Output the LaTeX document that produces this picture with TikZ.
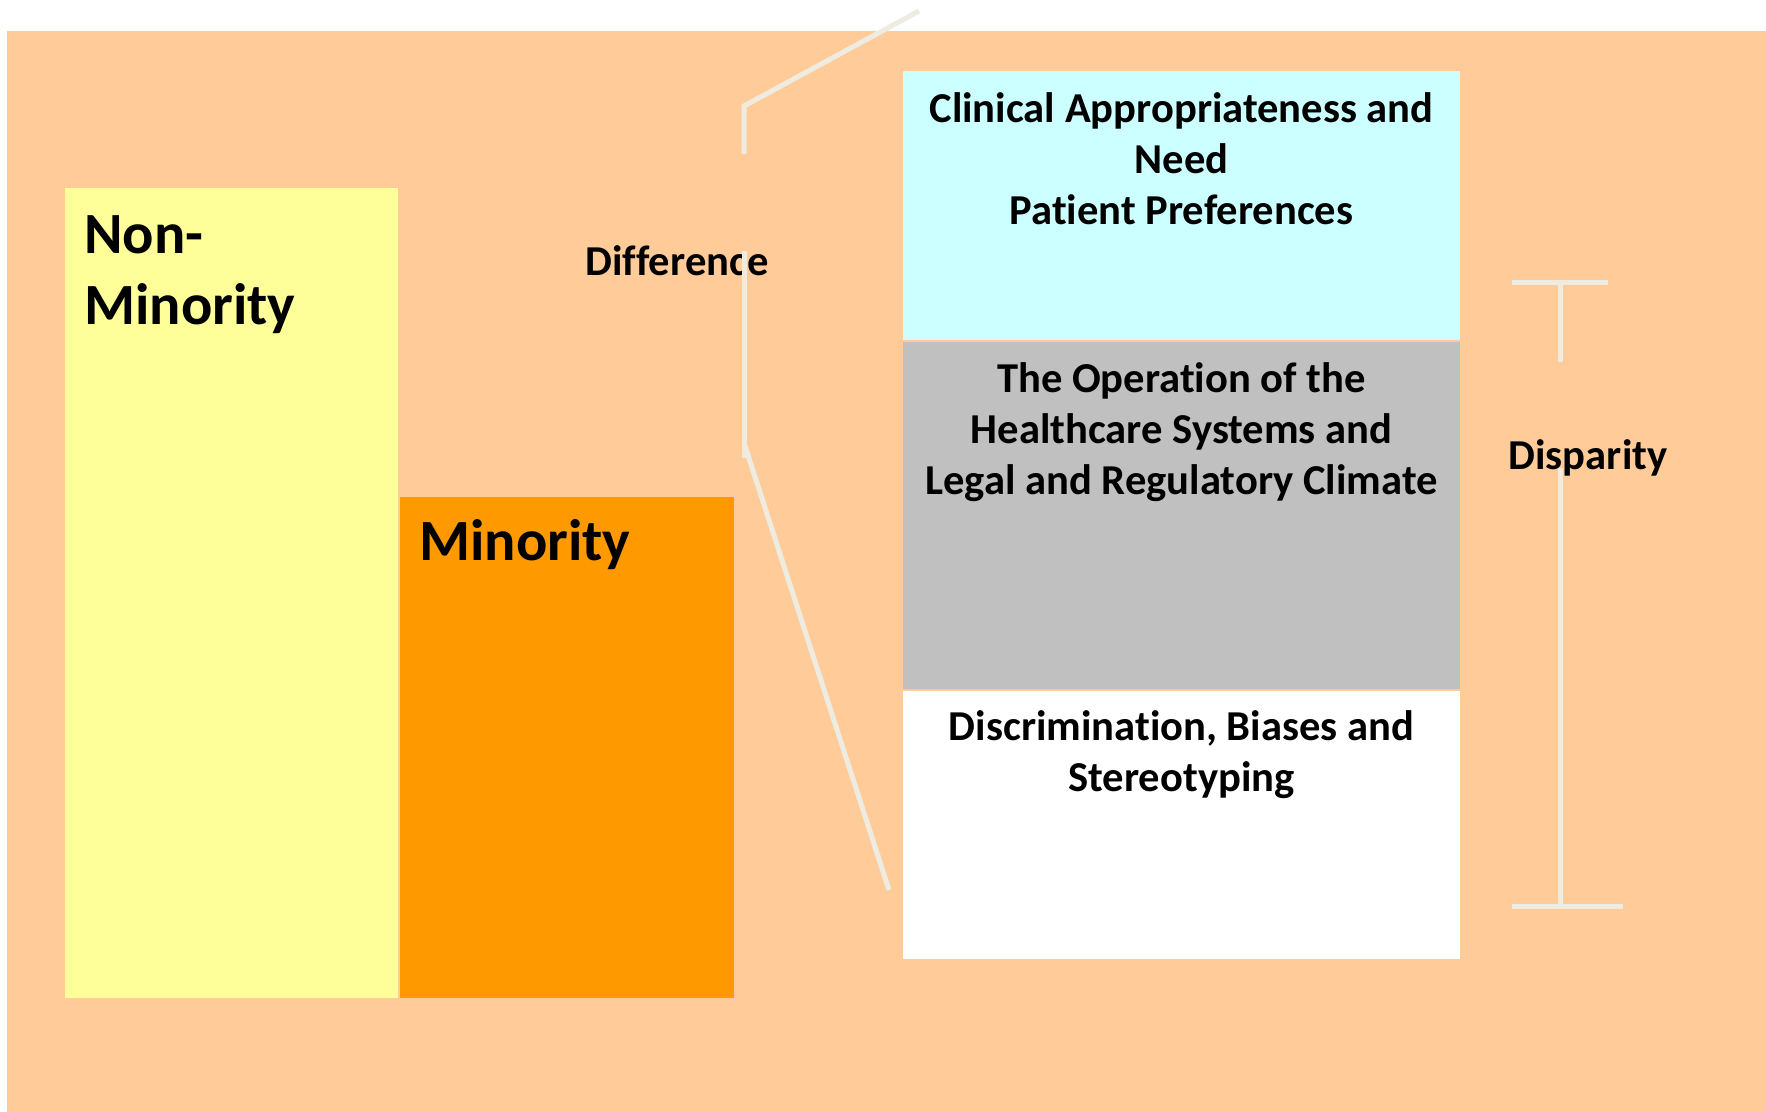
\documentclass[tikz,border=0pt]{standalone}
\usepackage{fontspec}
\setmainfont{Carlito}[Ligatures=NoCommon]
\usetikzlibrary{fit,positioning}
\definecolor{peach}{HTML}{FFCC99}
\definecolor{paleyellow}{HTML}{FFFF99}
\definecolor{deeporange}{HTML}{FF9900}
\definecolor{palecyan}{HTML}{CCFFFF}
\definecolor{midgray}{HTML}{C0C0C0}
\definecolor{cream}{HTML}{EEECE1}
\tikzset{
  bar/.style={inner sep=0pt, outer sep=0pt},
  bracket/.style={draw=cream, line width=2.5pt},
  bigtext/.style={font=\fontsize{29.2}{35.5}\selectfont\bfseries, align=left, inner sep=0pt},
  boxtext/.style={font=\fontsize{21.3}{25.5}\selectfont\bfseries, align=center, inner sep=0pt, anchor=north},
  sidetext/.style={font=\fontsize{21.3}{25.5}\selectfont\bfseries, inner sep=0pt, anchor=base},
}
\begin{document}
\begin{tikzpicture}[x=0.5pt,y=-0.5pt]
\useasboundingbox (0,0) rectangle (1766,1112);
\fill[peach] (7,31) rectangle (1766,1112);
% the two bars
\node[bar, fill=paleyellow, fit={(65,188) (398,998)}] (nonmin) {};
\node[bar, fill=deeporange, fit={(400,497) (734,998)}] (minor) {};
\node[bigtext, anchor=north west] (nonmintext) at (84,215) {Non-\\Minority};
\node[bigtext, anchor=base west] (minortext) at (419,560) {Minority};
% the stack of causes
\node[bar, fill=palecyan, fit={(903,71) (1460,340)}] (clinical) {};
\node[bar, fill=midgray, fit={(903,342) (1460,689)}] (operation) {};
\node[bar, fill=white, fit={(903,691) (1460,959)}] (discrim) {};
\node[boxtext] (clinicaltext) at (1181.5,92) {Clinical Appropriateness and\\Need\\Patient Preferences};
\node[boxtext] (operationtext) at (1181.5,362) {The Operation of the\\Healthcare Systems and\\Legal and Regulatory Climate};
\node[boxtext] (discrimtext) at (1181.5,710) {Discrimination, Biases and\\Stereotyping};
\node[sidetext] (difference) at (677,276) {Difference};
\node[sidetext] (disparity) at (1588,469) {Disparity};
% brackets
\coordinate (difftop) at (919,11);
\coordinate (diffbend) at (744,106);
\coordinate (diffbot) at (889,890);
\draw[bracket] (difftop) -- (diffbend) -- (744,154);
\draw[bracket] (744,251) -- (744,458);
\draw[bracket] (744,443) -- (diffbot);
\coordinate (disptop) at (1560,283);
\coordinate (dispbot) at (1560,906);
\draw[bracket] (1512,283) -- (1608,283);
\draw[bracket] (disptop) -- (1560,362);
\draw[bracket] (1560,468) -- (dispbot);
\draw[bracket] (1512,906) -- (1623,906);
\end{tikzpicture}
\end{document}
